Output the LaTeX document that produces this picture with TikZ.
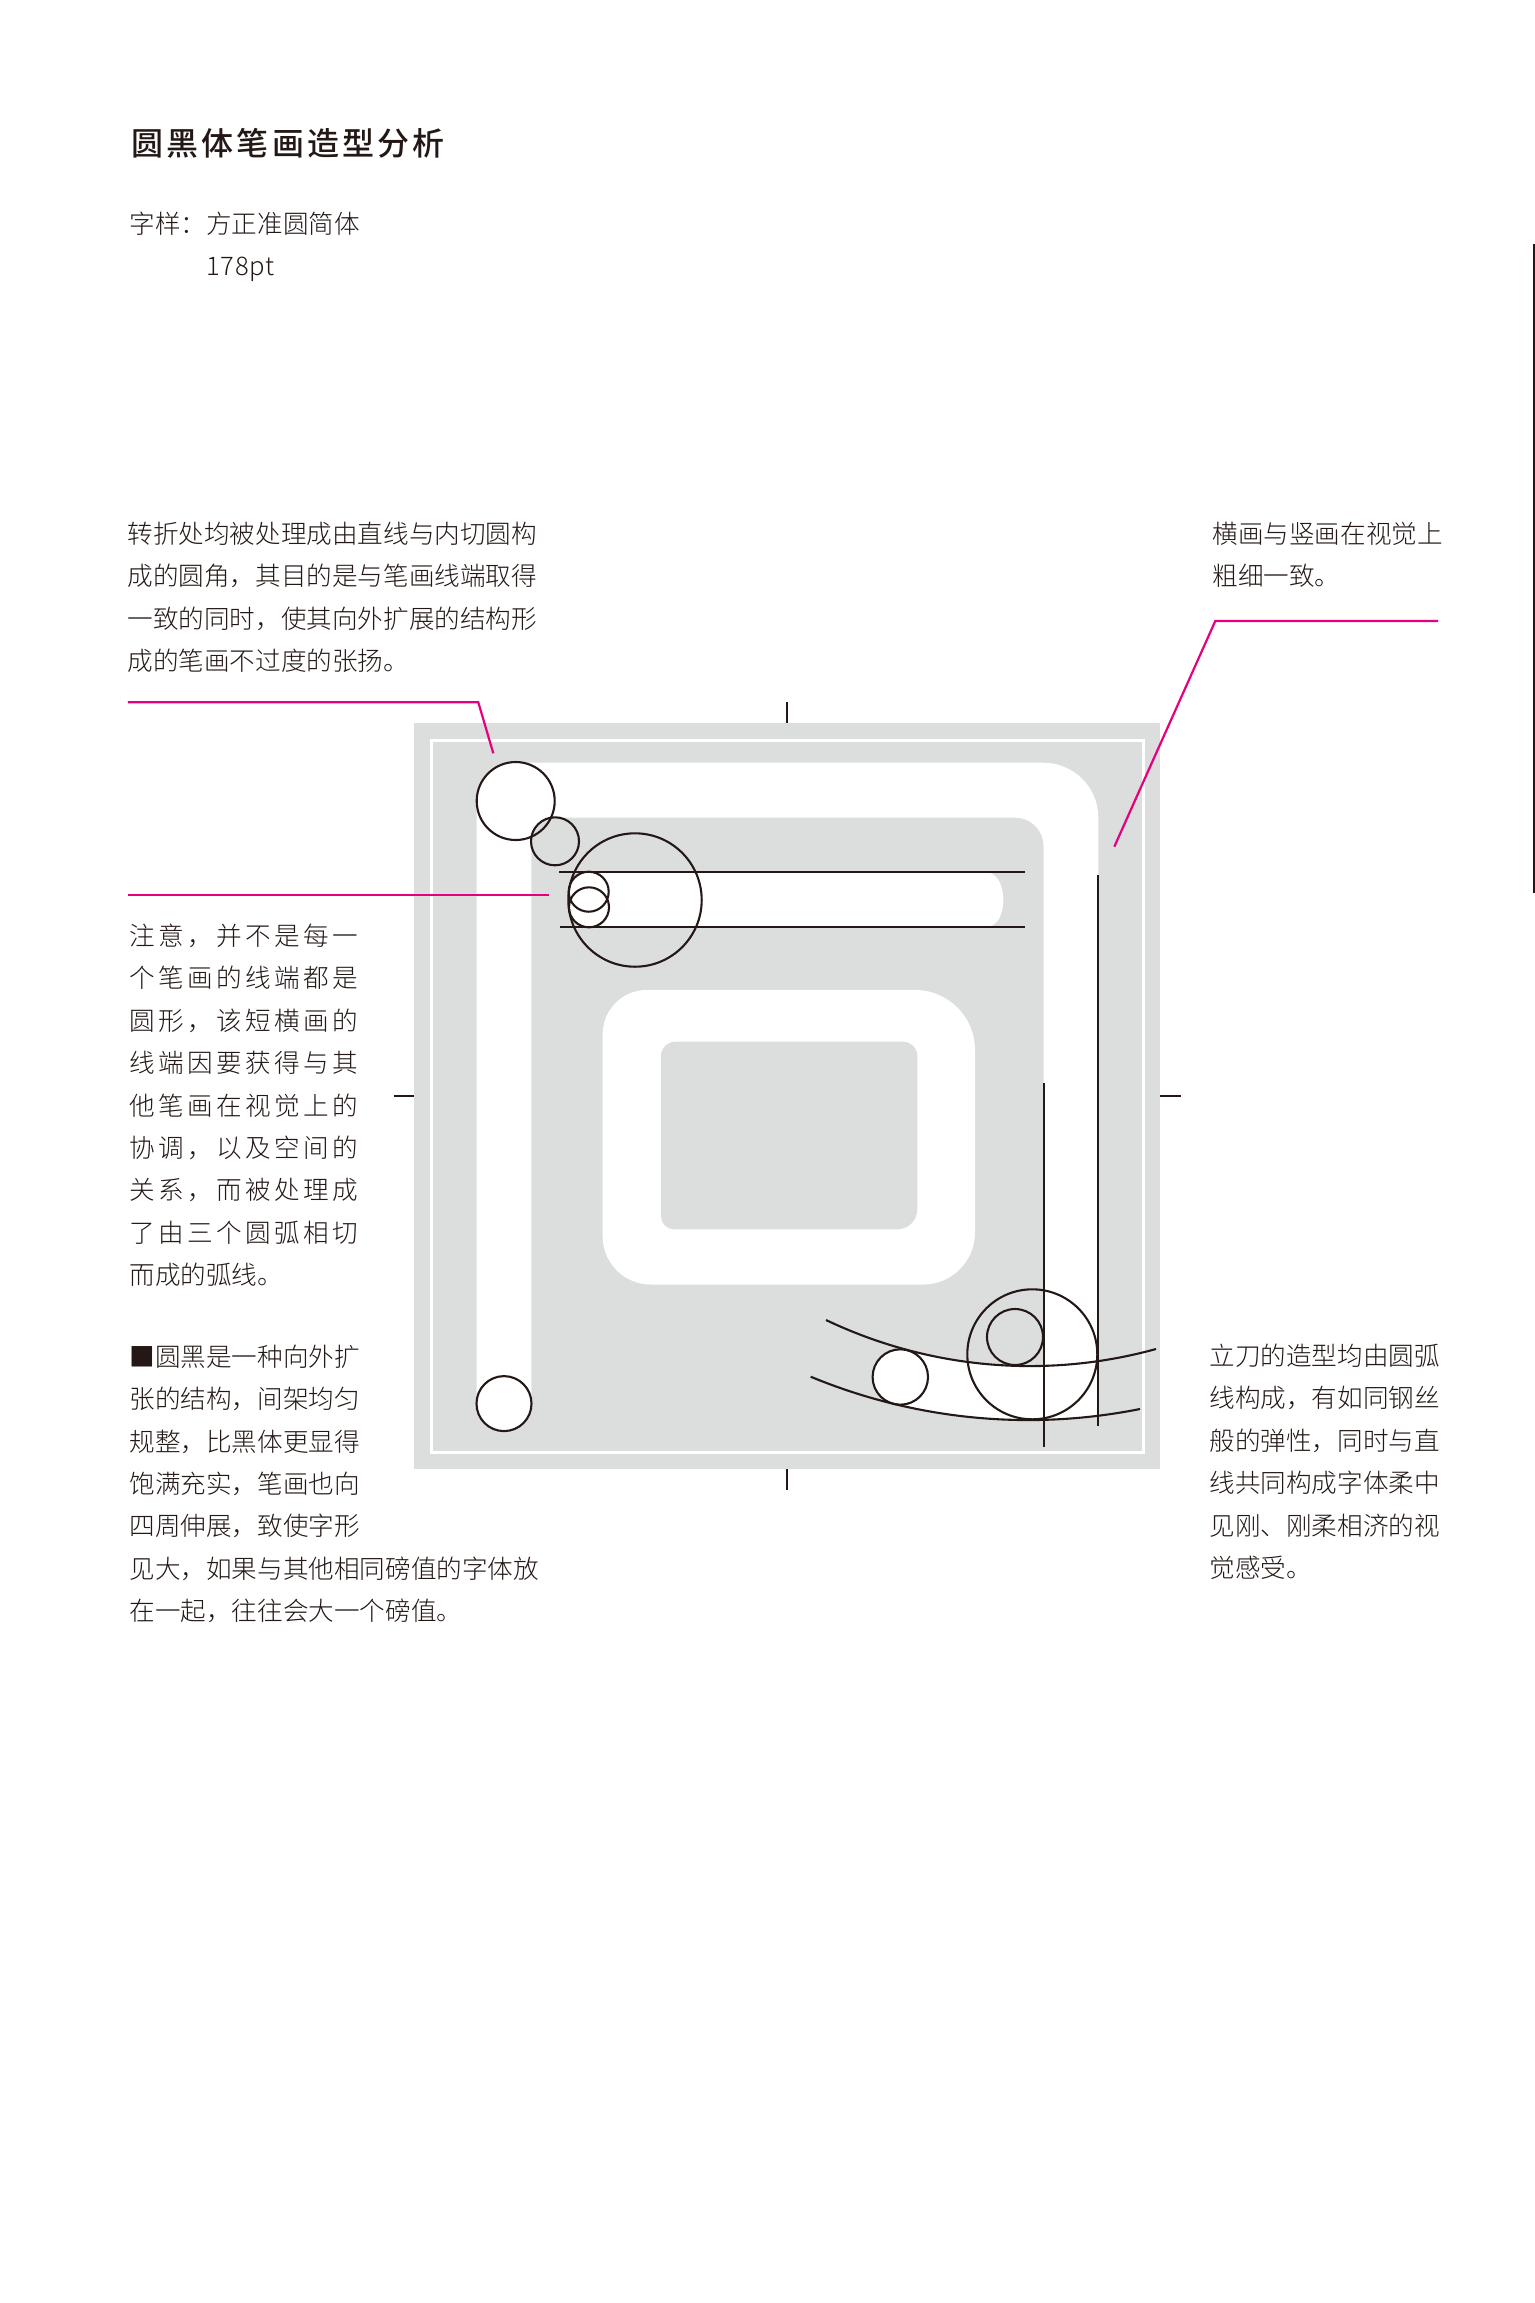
\documentclass[tikz,border=0pt]{standalone}
\usepackage{fontspec}
\usepackage{xcolor}
\usetikzlibrary{positioning}
\setmainfont{Noto Sans CJK SC}[UprightFont=* Light]
\newfontfamily\spreadfont{Noto Sans CJK SC}[UprightFont=* Light,LetterSpace=13.5]
\newfontfamily\sizefont{Noto Sans CJK SC}[UprightFont=* Light,LetterSpace=3]
\newfontfamily\titlefont{Noto Sans CJK SC}[UprightFont=* Medium,LetterSpace=10]
\definecolor{inkblack}{HTML}{231815}
\definecolor{leadpink}{HTML}{E4007F}
\definecolor{panelgray}{HTML}{DCDDDD}
\begin{document}
\begin{tikzpicture}[
    x=0.5pt, y=-0.5pt,
    note/.style={anchor=north west, inner sep=0pt, align=left, text=inkblack,
                 font=\fontsize{12.8}{21.2}\selectfont},
    ring/.style={circle, draw=inkblack, line width=1.05pt, inner sep=0pt, outer sep=0pt},
    rule/.style={draw=inkblack, line width=1.05pt},
    lead/.style={draw=leadpink, line width=1.1pt}
]
\useasboundingbox (0,0) rectangle (1535,2303);

\fill[panelgray] (414.3,723.3) rectangle (1160,1469);
\draw[white, line width=1.5pt] (431.7,740.3) rectangle (1143.3,1452.3);

\fill[white] (476.7,1404) [rounded corners=19.5pt] -- (476.7,762.7) [rounded corners=27.5pt] -- (1098.3,762.7)
    [sharp corners] -- (1098.3,1366) -- (1043.5,1366) [rounded corners=14pt] -- (1043.5,817.7)
    [rounded corners=12pt] -- (531.3,817.7) [sharp corners] -- (531.3,1404) -- cycle;
\fill[white] (590,872) .. controls (573,874) and (568,887) .. (568,900) .. controls (568,913) and (573,925) .. (590,927)
    -- (988,927) .. controls (998,925) and (1003.3,914) .. (1003.3,900) .. controls (1003.3,886) and (998,875) .. (988,872) -- cycle;
\fill[white] (602.7,1100) [rounded corners=22pt] -- (602.7,990) [rounded corners=30pt] -- (975,990)
    [rounded corners=26pt] -- (975,1284.5) [rounded corners=24pt] -- (602.7,1284.5) [sharp corners] -- cycle;
\fill[panelgray] (661,1100) [rounded corners=7pt] -- (661,1041.7) -- (917.3,1041.7)
    [rounded corners=10pt] -- (917.3,1229.3) [rounded corners=6.5pt] -- (661,1229.3) [sharp corners] -- cycle;
\begin{scope}
    \clip (900.3,1300) rectangle (1098.3,1440);
    \fill[white] (826,1320) .. controls (929,1369) and (1046,1379.3) .. (1156,1349) -- (1140,1409)
        .. controls (1029.3,1431.1) and (915,1419.9) .. (810.7,1376.7) -- cycle;
\end{scope}

\node[ring, minimum size=39pt] (cornerOut) at (515.7,801) {};
\node[ring, minimum size=24pt] (cornerIn) at (555,841.3) {};
\node[ring, minimum size=66.7pt] (endBig) at (635,900) {};
\node[ring, minimum size=20pt] (endUp) at (588.7,891.7) {};
\node[ring, minimum size=20pt] (endDown) at (589,907.3) {};
\node[ring, minimum size=27.5pt, fill=white] (legEnd) at (504,1403.6) {};
\node[ring, minimum size=27.7pt, fill=white] (hookEnd) at (900.3,1377) {};
\node[ring, minimum size=65pt] (tipOut) at (1032.3,1354.3) {};
\node[ring, minimum size=28pt] (tipIn) at (1015,1337) {};

\draw[rule] (559.3,872.3) -- (1025,872.3);
\draw[rule] (560,927) -- (1025,927);
\draw[rule] (1043.7,1082.6) -- (1043.7,1447);
\draw[rule] (1098.3,875) -- (1098.3,1426);
\draw[rule] (826,1320) .. controls (929,1369) and (1046,1379.3) .. (1156,1349);
\draw[rule] (810.7,1376.7) .. controls (915,1419.9) and (1029.3,1431.1) .. (1140,1409);

\draw[rule] (787,702) -- (787,723.3);
\draw[rule] (787,1469) -- (787,1490);
\draw[rule] (393.7,1096) -- (414.3,1096);
\draw[rule] (1160,1096) -- (1181,1096);
\draw[rule] (1534,244) -- (1534,893);

\coordinate (leadA) at (127.8,702.3);
\coordinate (bendA) at (478.3,702.3);
\coordinate (tipA) at (493.3,753.3);
\coordinate (leadB) at (127.8,894.7);
\coordinate (tipB) at (549,894.7);
\coordinate (leadC) at (1438,621);
\coordinate (bendC) at (1215.3,621);
\coordinate (tipC) at (1114.3,846.7);
\draw[lead] (leadA) -- (bendA) -- (tipA);
\draw[lead] (leadB) -- (tipB);
\draw[lead] (leadC) -- (bendC) -- (tipC);

\node[note, font=\fontsize{16}{18}\titlefont] (title) at (131,128) {圆黑体笔画造型分析};
\node[note] (sample) at (129,211.5) {字样：方正准圆简体};
\node[note] (size) at (206,256.5) {\sizefont 178pt};
\node[note] (noteCorner) at (127,521.5) {转折处均被处理成由直线与内切圆构\\成的圆角，其目的是与笔画线端取得\\一致的同时，使其向外扩展的结构形\\成的笔画不过度的张扬。};
\node[note] (noteWeight) at (1212,521.5) {横画与竖画在视觉上\\粗细一致。};
\node[note] (noteEnd) at (129,923.5) {\spreadfont 注意，并不是每一\\\spreadfont 个笔画的线端都是\\\spreadfont 圆形，该短横画的\\\spreadfont 线端因要获得与其\\\spreadfont 他笔画在视觉上的\\\spreadfont 协调，以及空间的\\\spreadfont 关系，而被处理成\\\spreadfont 了由三个圆弧相切\\而成的弧线。};
\node[note] (noteWhole) at (129,1344.5) {■圆黑是一种向外扩\\张的结构，间架均匀\\规整，比黑体更显得\\饱满充实，笔画也向\\四周伸展，致使字形\\见大，如果与其他相同磅值的字体放\\在一起，往往会大一个磅值。};
\node[note] (noteBlade) at (1209,1343.5) {立刀的造型均由圆弧\\线构成，有如同钢丝\\般的弹性，同时与直\\线共同构成字体柔中\\见刚、刚柔相济的视\\觉感受。};
\end{tikzpicture}
\end{document}
